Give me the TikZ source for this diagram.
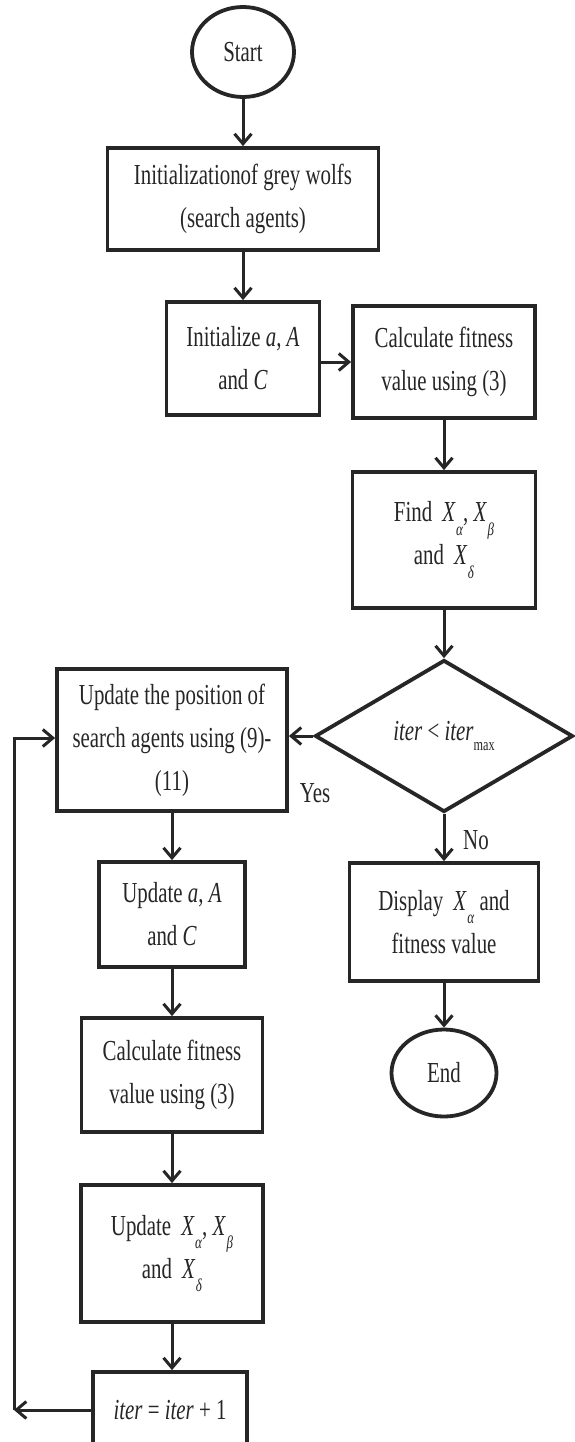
\documentclass[tikz,border=0pt]{standalone}
\usepackage{fontspec}
\setmainfont{Liberation Serif}[FakeStretch=0.72]
\usetikzlibrary{shapes.geometric,arrows.meta}
\newcommand{\Xsub}[1]{\textit{X}\kern0.5pt\raisebox{-0.45em}{\fontsize{18}{18}\selectfont\textit{#1}}}
\newcommand{\itmax}{\textit{iter}\raisebox{-0.35em}{\fontsize{17}{17}\selectfont max}}
\begin{document}
\begin{tikzpicture}[x=1pt,y=-1pt,
  lbl/.style={font=\fontsize{29}{43}\selectfont, text=black!85},
  box/.style={lbl, draw=black!85, line width=3.8pt, align=center, inner sep=0pt, rectangle},
  term/.style={lbl, draw=black!85, line width=3.8pt, ellipse, inner sep=0pt},
  cond/.style={lbl, draw=black!85, line width=3.8pt, diamond, inner sep=0pt, aspect=1.7},
  arr/.style={draw=black!85, line width=3pt, -{Straight Barb[length=10pt,width=17pt,line width=3pt]}}]
\useasboundingbox (0,0) rectangle (574,1442);
\fill[white] (0,0) rectangle (574,1442);

\node[term, minimum width=102pt, minimum height=90pt] (start) at (243,52) {Start};
\node[box, minimum width=271pt, minimum height=102pt] (init) at (243,199) {Initializationof grey wolfs\\(search agents)};
\node[box, minimum width=153pt, minimum height=113pt] (inita) at (243,358.5) {Initialize \textit{a}, \textit{A}\\and \textit{C}};
\node[box, minimum width=182pt, minimum height=112pt] (calc1) at (444,362) {Calculate fitness\\value using (3)};
\node[box, minimum width=183pt, minimum height=136pt] (find) at (444,540) {Find \,\Xsub{α}, \Xsub{β}\\and \,\Xsub{δ}};
\node[cond, minimum width=258pt, minimum height=152pt] (dec) at (444,736) {\textit{iter} < \itmax};
\node[box, minimum width=230pt, minimum height=142pt] (upd) at (172,740) {Update the position of\\search agents using (9)-\\(11)};
\node[box, minimum width=146pt, minimum height=105pt] (upda) at (172,914.5) {Update \textit{a}, \textit{A}\\and \textit{C}};
\node[box, minimum width=181pt, minimum height=114pt] (calc2) at (172,1075) {Calculate fitness\\value using (3)};
\node[box, minimum width=182pt, minimum height=137pt] (updx) at (172,1253.5) {Update \,\Xsub{α}, \Xsub{β}\\and \,\Xsub{δ}};
\node[box, minimum width=154pt, minimum height=76pt] (iter) at (170,1410) {\textit{iter} = \textit{iter} + 1};
\node[box, minimum width=189pt, minimum height=118pt] (disp) at (444,922) {Display \,\Xsub{α} and\\fitness value};
\node[term, minimum width=105pt, minimum height=87pt] (end) at (444,1073) {End};

\node[lbl] (yes) at (315,793) {Yes};
\node[lbl] (no) at (476,840) {No};

\coordinate (lb) at (14,1410);
\coordinate (lt) at (14,738);

\draw[arr] (start.south) -- (init.north);
\draw[arr] (init.south) -- (inita.north);
\draw[arr] (inita.east |- calc1) -- (calc1.west);
\draw[arr] (calc1.south) -- (find.north);
\draw[arr] (find.south) -- (dec.north);
\draw[arr] (dec.west) -- (dec.west -| upd.east);
\draw[arr] (dec.south) -- (disp.north);
\draw[arr] (disp.south) -- (end.north);
\draw[arr] (upd.south) -- (upda.north);
\draw[arr] (upda.south) -- (calc2.north);
\draw[arr] (calc2.south) -- (updx.north);
\draw[arr] (updx.south) -- (updx.south |- iter.north);
\draw[arr] (iter.west) -- (lb);
\draw[arr] (lb) -- (lt) -- (upd.west |- lt);
\end{tikzpicture}
\end{document}
